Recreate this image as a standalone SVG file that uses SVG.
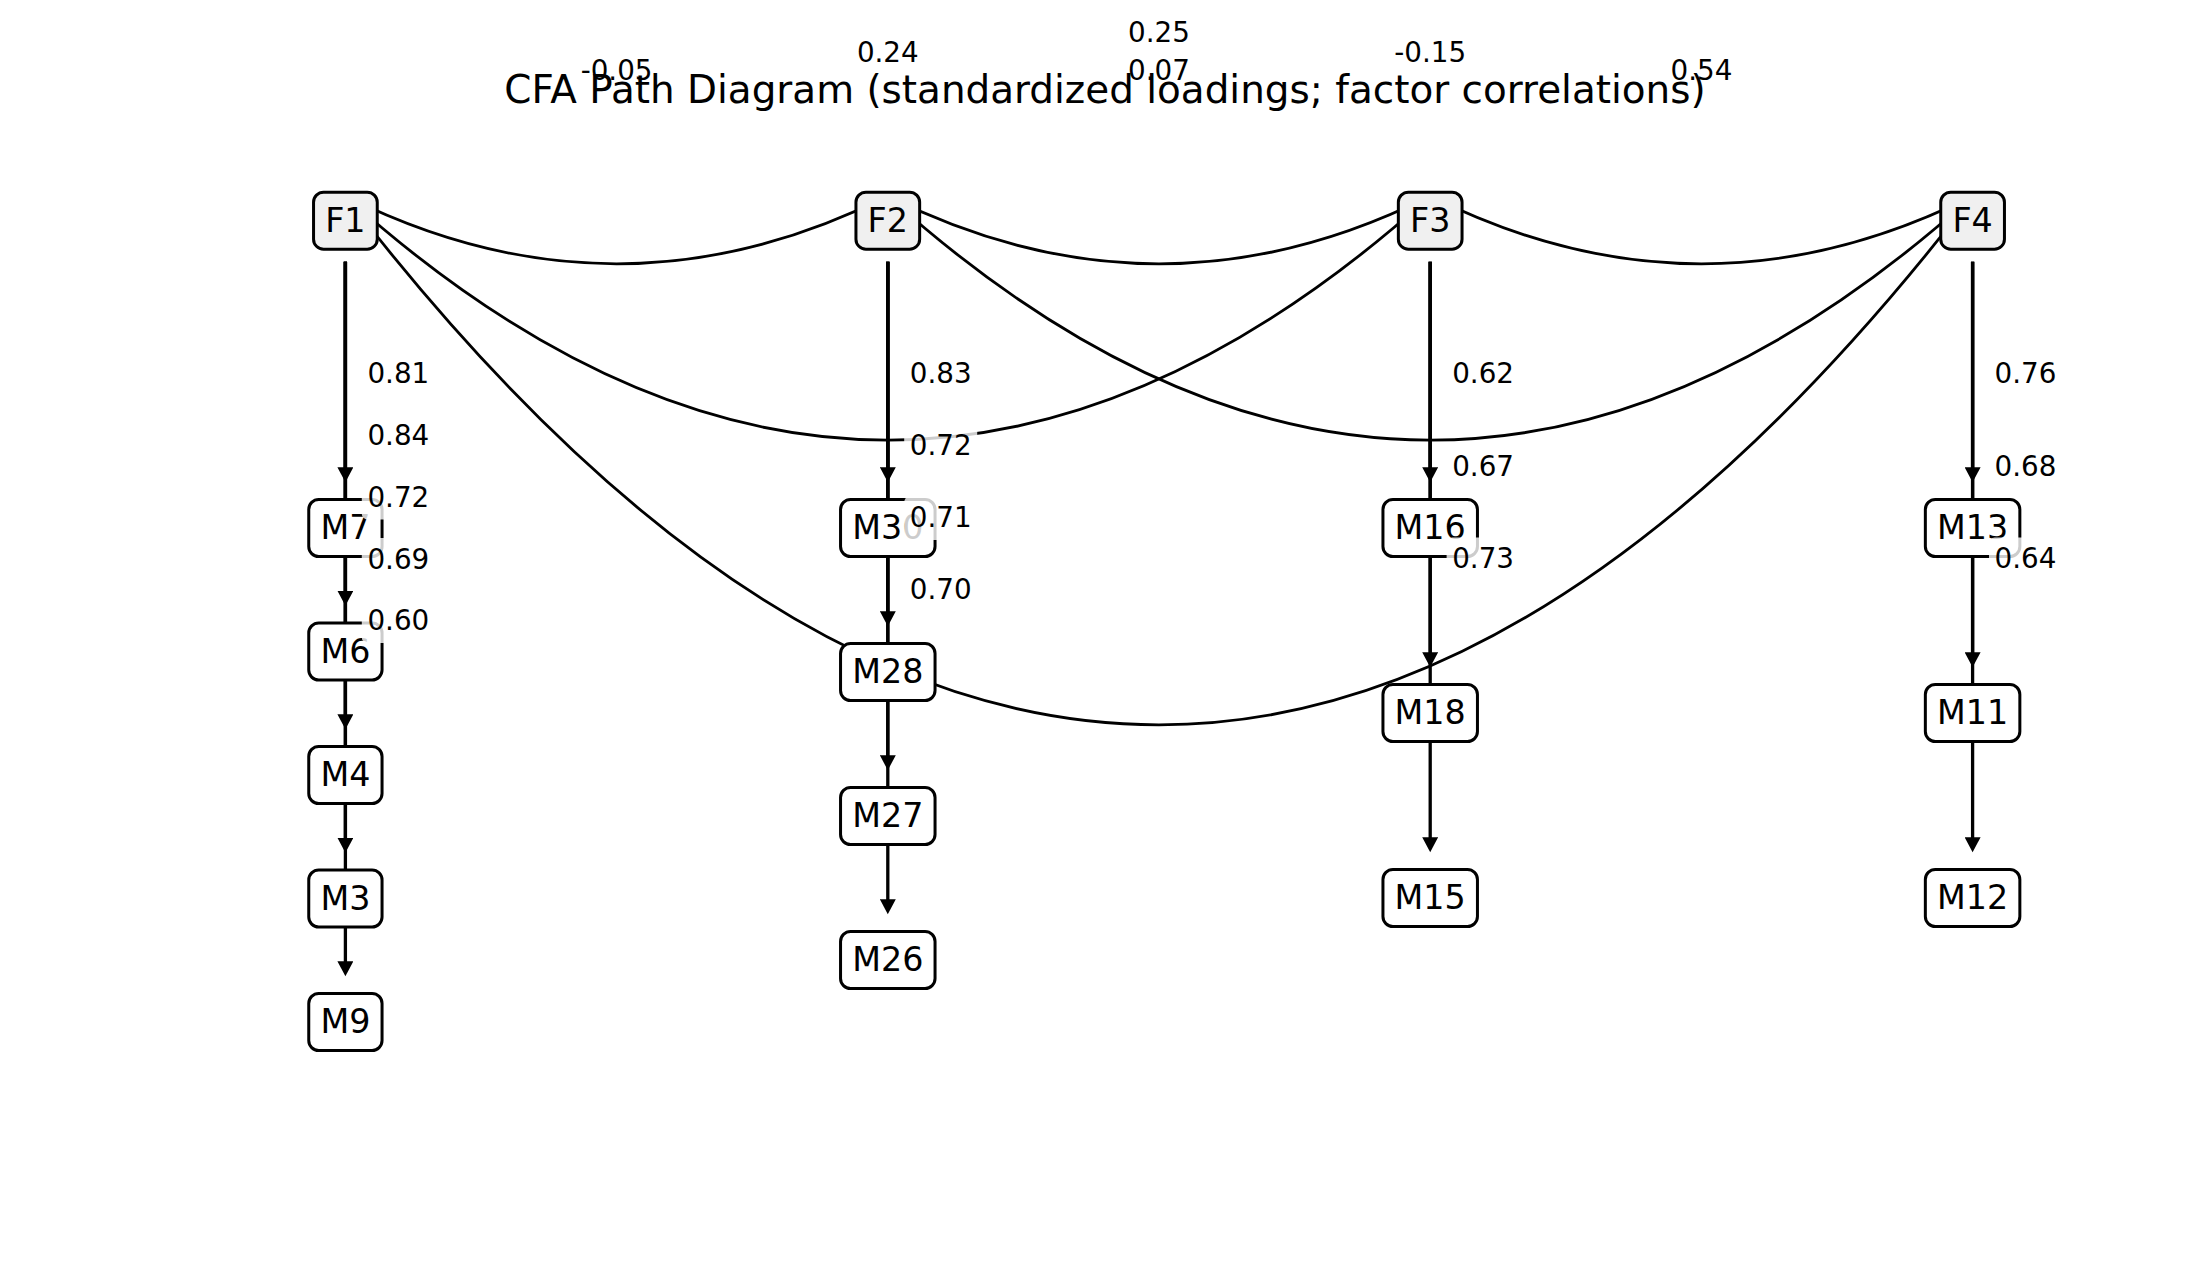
<svg xmlns="http://www.w3.org/2000/svg" width="2210" height="1288" viewBox="0 0 2210 1288">
<style>
text{font-family:"DejaVu Sans","Liberation Sans",sans-serif;fill:#000}
.title{font-size:38.9px;text-anchor:middle}
.nlab{font-size:33.33px;text-anchor:middle}
.elab{font-size:27.78px}
.clab{font-size:27.78px;text-anchor:middle}
.fac rect{fill:#f0f0f0;stroke:#000;stroke-width:3}
.obs rect{fill:#fff;stroke:#000;stroke-width:3}
.corr{fill:none;stroke:#000;stroke-width:2.8}
.load{fill:none;stroke:#000;stroke-width:3.3;marker-end:url(#ah)}
.lbg{fill:#fff;fill-opacity:0.8;stroke:none}
</style>
<defs>
<marker id="ah" markerUnits="userSpaceOnUse" markerWidth="16" markerHeight="16" viewBox="0 0 16 16" refX="9" refY="8" orient="auto"><path d="M0,0 L15,8 L0,16 z" fill="#000"/></marker>
</defs>
<rect width="2210" height="1288" fill="#fff"/>
<g id="connectors">
<path class="corr" d="M345.4,196 Q616.6,331.6 887.8,196"/>
<path class="corr" d="M887.8,196 Q1159,331.6 1430.2,196"/>
<path class="corr" d="M1430.2,196 Q1701.4,331.6 1972.6,196"/>
<path class="corr" d="M345.4,196 Q887.8,684.2 1430.2,196"/>
<path class="corr" d="M887.8,196 Q1430.2,684.2 1972.6,196"/>
<path class="corr" d="M345.4,196 Q1159,1253.7 1972.6,196"/>
<path class="load" d="M345.4,261.7 V476.2"/>
<path class="load" d="M345.4,261.7 V599.7"/>
<path class="load" d="M345.4,261.7 V723.2"/>
<path class="load" d="M345.4,261.7 V846.7"/>
<path class="load" d="M345.4,261.7 V970.2"/>
<path class="load" d="M887.8,261.7 V476.2"/>
<path class="load" d="M887.8,261.7 V620.2"/>
<path class="load" d="M887.8,261.7 V764.2"/>
<path class="load" d="M887.8,261.7 V908.2"/>
<path class="load" d="M1430.2,261.7 V476.2"/>
<path class="load" d="M1430.2,261.7 V661.2"/>
<path class="load" d="M1430.2,261.7 V846.2"/>
<path class="load" d="M1972.6,261.7 V476.2"/>
<path class="load" d="M1972.6,261.7 V661.2"/>
<path class="load" d="M1972.6,261.7 V846.2"/>
</g>
<g id="nodes">
<g id="F1" class="fac"><rect x="313.55" y="192.2" width="63.7" height="57" rx="10"/><text class="nlab" x="345.4" y="231.5">F1</text></g>
<g id="F2" class="fac"><rect x="855.95" y="192.2" width="63.7" height="57" rx="10"/><text class="nlab" x="887.8" y="231.5">F2</text></g>
<g id="F3" class="fac"><rect x="1398.35" y="192.2" width="63.7" height="57" rx="10"/><text class="nlab" x="1430.2" y="231.5">F3</text></g>
<g id="F4" class="fac"><rect x="1940.75" y="192.2" width="63.7" height="57" rx="10"/><text class="nlab" x="1972.6" y="231.5">F4</text></g>
<g id="M7" class="obs"><rect x="308.75" y="499.5" width="73.3" height="57" rx="10"/><text class="nlab" x="345.4" y="539">M7</text></g>
<g id="M6" class="obs"><rect x="308.75" y="623" width="73.3" height="57" rx="10"/><text class="nlab" x="345.4" y="662.5">M6</text></g>
<g id="M4" class="obs"><rect x="308.75" y="746.5" width="73.3" height="57" rx="10"/><text class="nlab" x="345.4" y="786">M4</text></g>
<g id="M3" class="obs"><rect x="308.75" y="870" width="73.3" height="57" rx="10"/><text class="nlab" x="345.4" y="909.5">M3</text></g>
<g id="M9" class="obs"><rect x="308.75" y="993.5" width="73.3" height="57" rx="10"/><text class="nlab" x="345.4" y="1033">M9</text></g>
<g id="M30" class="obs"><rect x="840.55" y="499.5" width="94.5" height="57" rx="10"/><text class="nlab" x="887.8" y="539">M30</text></g>
<g id="M28" class="obs"><rect x="840.55" y="643.5" width="94.5" height="57" rx="10"/><text class="nlab" x="887.8" y="683">M28</text></g>
<g id="M27" class="obs"><rect x="840.55" y="787.5" width="94.5" height="57" rx="10"/><text class="nlab" x="887.8" y="827">M27</text></g>
<g id="M26" class="obs"><rect x="840.55" y="931.5" width="94.5" height="57" rx="10"/><text class="nlab" x="887.8" y="971">M26</text></g>
<g id="M16" class="obs"><rect x="1382.95" y="499.5" width="94.5" height="57" rx="10"/><text class="nlab" x="1430.2" y="539">M16</text></g>
<g id="M18" class="obs"><rect x="1382.95" y="684.5" width="94.5" height="57" rx="10"/><text class="nlab" x="1430.2" y="724">M18</text></g>
<g id="M15" class="obs"><rect x="1382.95" y="869.5" width="94.5" height="57" rx="10"/><text class="nlab" x="1430.2" y="909">M15</text></g>
<g id="M13" class="obs"><rect x="1925.35" y="499.5" width="94.5" height="57" rx="10"/><text class="nlab" x="1972.6" y="539">M13</text></g>
<g id="M11" class="obs"><rect x="1925.35" y="684.5" width="94.5" height="57" rx="10"/><text class="nlab" x="1972.6" y="724">M11</text></g>
<g id="M12" class="obs"><rect x="1925.35" y="869.5" width="94.5" height="57" rx="10"/><text class="nlab" x="1972.6" y="909">M12</text></g>
</g>
<g id="loading-labels">
<rect class="lbg" x="361.8" y="352.6" width="73" height="43.4" rx="5.6"/><text class="elab" x="367.4" y="383.3">0.81</text>
<rect class="lbg" x="361.8" y="414.4" width="73" height="43.4" rx="5.6"/><text class="elab" x="367.4" y="445.1">0.84</text>
<rect class="lbg" x="361.8" y="476.1" width="73" height="43.4" rx="5.6"/><text class="elab" x="367.4" y="506.8">0.72</text>
<rect class="lbg" x="361.8" y="537.9" width="73" height="43.4" rx="5.6"/><text class="elab" x="367.4" y="568.6">0.69</text>
<rect class="lbg" x="361.8" y="599.6" width="73" height="43.4" rx="5.6"/><text class="elab" x="367.4" y="630.3">0.60</text>
<rect class="lbg" x="904.2" y="352.6" width="73" height="43.4" rx="5.6"/><text class="elab" x="909.8" y="383.3">0.83</text>
<rect class="lbg" x="904.2" y="424.6" width="73" height="43.4" rx="5.6"/><text class="elab" x="909.8" y="455.3">0.72</text>
<rect class="lbg" x="904.2" y="496.6" width="73" height="43.4" rx="5.6"/><text class="elab" x="909.8" y="527.3">0.71</text>
<rect class="lbg" x="904.2" y="568.6" width="73" height="43.4" rx="5.6"/><text class="elab" x="909.8" y="599.3">0.70</text>
<rect class="lbg" x="1446.6" y="352.6" width="73" height="43.4" rx="5.6"/><text class="elab" x="1452.2" y="383.3">0.62</text>
<rect class="lbg" x="1446.6" y="445.1" width="73" height="43.4" rx="5.6"/><text class="elab" x="1452.2" y="475.8">0.67</text>
<rect class="lbg" x="1446.6" y="537.6" width="73" height="43.4" rx="5.6"/><text class="elab" x="1452.2" y="568.3">0.73</text>
<rect class="lbg" x="1989" y="352.6" width="73" height="43.4" rx="5.6"/><text class="elab" x="1994.6" y="383.3">0.76</text>
<rect class="lbg" x="1989" y="445.1" width="73" height="43.4" rx="5.6"/><text class="elab" x="1994.6" y="475.8">0.68</text>
<rect class="lbg" x="1989" y="537.6" width="73" height="43.4" rx="5.6"/><text class="elab" x="1994.6" y="568.3">0.64</text>
</g>
<g id="correlation-labels">
<text class="clab" x="616.6" y="80">-0.05</text>
<text class="clab" x="887.8" y="61.7">0.24</text>
<text class="clab" x="1159" y="41.7">0.25</text>
<text class="clab" x="1159" y="80">0.07</text>
<text class="clab" x="1430.2" y="61.7">-0.15</text>
<text class="clab" x="1701.4" y="80">0.54</text>
</g>
<text class="title" x="1105" y="103">CFA Path Diagram (standardized loadings; factor correlations)</text>
</svg>
